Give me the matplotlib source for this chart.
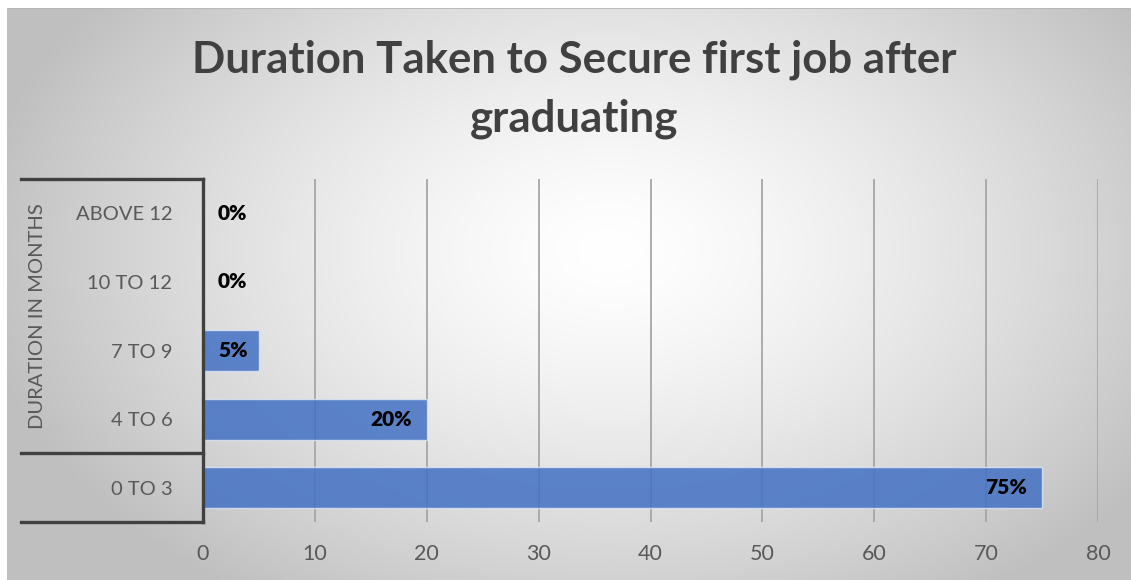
import numpy as np
import matplotlib
matplotlib.use("Agg")
import matplotlib.pyplot as plt
from matplotlib.lines import Line2D

plt.rcParams['font.family'] = ['Lato', 'DejaVu Sans']

# --- data ---------------------------------------------------------------
categories = ["0 TO 3", "4 TO 6", "7 TO 9", "10 TO 12", "ABOVE 12"]
shares = [75, 20, 5, 0, 0]
value_labels = ["75%", "20%", "5%", "0%", "0%"]
x_ticks = [0, 10, 20, 30, 40, 50, 60, 70, 80]
title_lines = ["Duration Taken to Secure first job after", "graduating"]
group_label = "DURATION IN MONTHS"

W, H, DPI = 1131, 580, 100
fig = plt.figure(figsize=(W / DPI, H / DPI), dpi=DPI, facecolor="white")

# --- radial grey backdrop -------------------------------------------------
bg = fig.add_axes([7 / W, 0, 1 - 7 / W, 1 - 8 / H], zorder=-10)
bg.set_axis_off()
gx, gy = np.meshgrid(np.arange(7, W), np.arange(8, H))
r = np.sqrt(((gx - 610) / 640.0) ** 2 + ((gy - 250) / 420.0) ** 2)
shade = 1 - 0.25 * np.clip(r, 0, 1) ** 1.4
bg.imshow(np.dstack([shade] * 3), aspect="auto", extent=(0, 1, 0, 1),
          interpolation="bilinear")
bg.set_xlim(0, 1)
bg.set_ylim(0, 1)
bg.plot([0, 1], [1, 1], color="#b5b5b5", lw=1.2, transform=bg.transAxes)

# --- bar chart ------------------------------------------------------------
ax = fig.add_axes([203 / W, 1 - 522 / H, (1098 - 203) / W, (522 - 179) / H])
ax.patch.set_alpha(0)
ypos = np.arange(len(categories))
bars = ax.barh(ypos, shares, height=0.6, color="#4472C4", alpha=0.86,
               edgecolor="#dbe4f3", linewidth=1.0, zorder=3)
ax.set_xlim(0, 80)
ax.set_ylim(-0.5, len(categories) - 0.5)
ax.set_xticks(x_ticks)
ax.set_xticklabels([str(t) for t in x_ticks], fontsize=15.5, color="#595959")
ax.set_yticks(ypos)
ax.set_yticklabels(categories, fontsize=14.5, color="#595959")
ax.tick_params(axis="x", length=0, pad=16)
ax.tick_params(axis="y", length=0, pad=22)
ax.grid(axis="x", color="#a6a6a6", lw=1.3, zorder=1)
for s in ax.spines.values():
    s.set_visible(False)

# value labels sit just inside the bar end, never left of the axis padding
fig.canvas.draw()
renderer = fig.canvas.get_renderer()
px_per_unit = ax.bbox.width / 80.0
pad_units = 15 / px_per_unit
for y, v, lab in zip(ypos, shares, value_labels):
    t = ax.text(0, y, lab, fontsize=15, fontweight="heavy", color="black",
                va="center", ha="left", zorder=5)
    wpx = t.get_window_extent(renderer).width
    left = max(v - pad_units - wpx / px_per_unit, pad_units)
    t.set_x(left)

# multi-level axis frame
frame_kw = dict(color="#404040", lw=2.4, transform=ax.transAxes,
                clip_on=False, solid_capstyle="projecting", zorder=6)
xl = (21 - 203) / (1098 - 203)
ax.add_line(Line2D([0, 0], [0, 1], **frame_kw))
ax.add_line(Line2D([xl, 0], [1, 1], **frame_kw))
ax.add_line(Line2D([xl, 0], [0.2, 0.2], **frame_kw))
ax.add_line(Line2D([xl, 0], [0, 0], **frame_kw))
ax.text((38 - 203) / (1098 - 203), 0.6, group_label, rotation=90,
        transform=ax.transAxes, ha="center", va="center",
        fontsize=14.5, color="#595959")

# --- title ----------------------------------------------------------------
fig.text(574 / W, 1 - 60 / H, title_lines[0], ha="center", va="center",
         fontsize=31.5, fontweight="bold", color="#404040")
fig.text(574 / W, 1 - 119 / H, title_lines[1], ha="center", va="center",
         fontsize=31.5, fontweight="bold", color="#404040")

fig.savefig("out.png", dpi=DPI, facecolor="white")
